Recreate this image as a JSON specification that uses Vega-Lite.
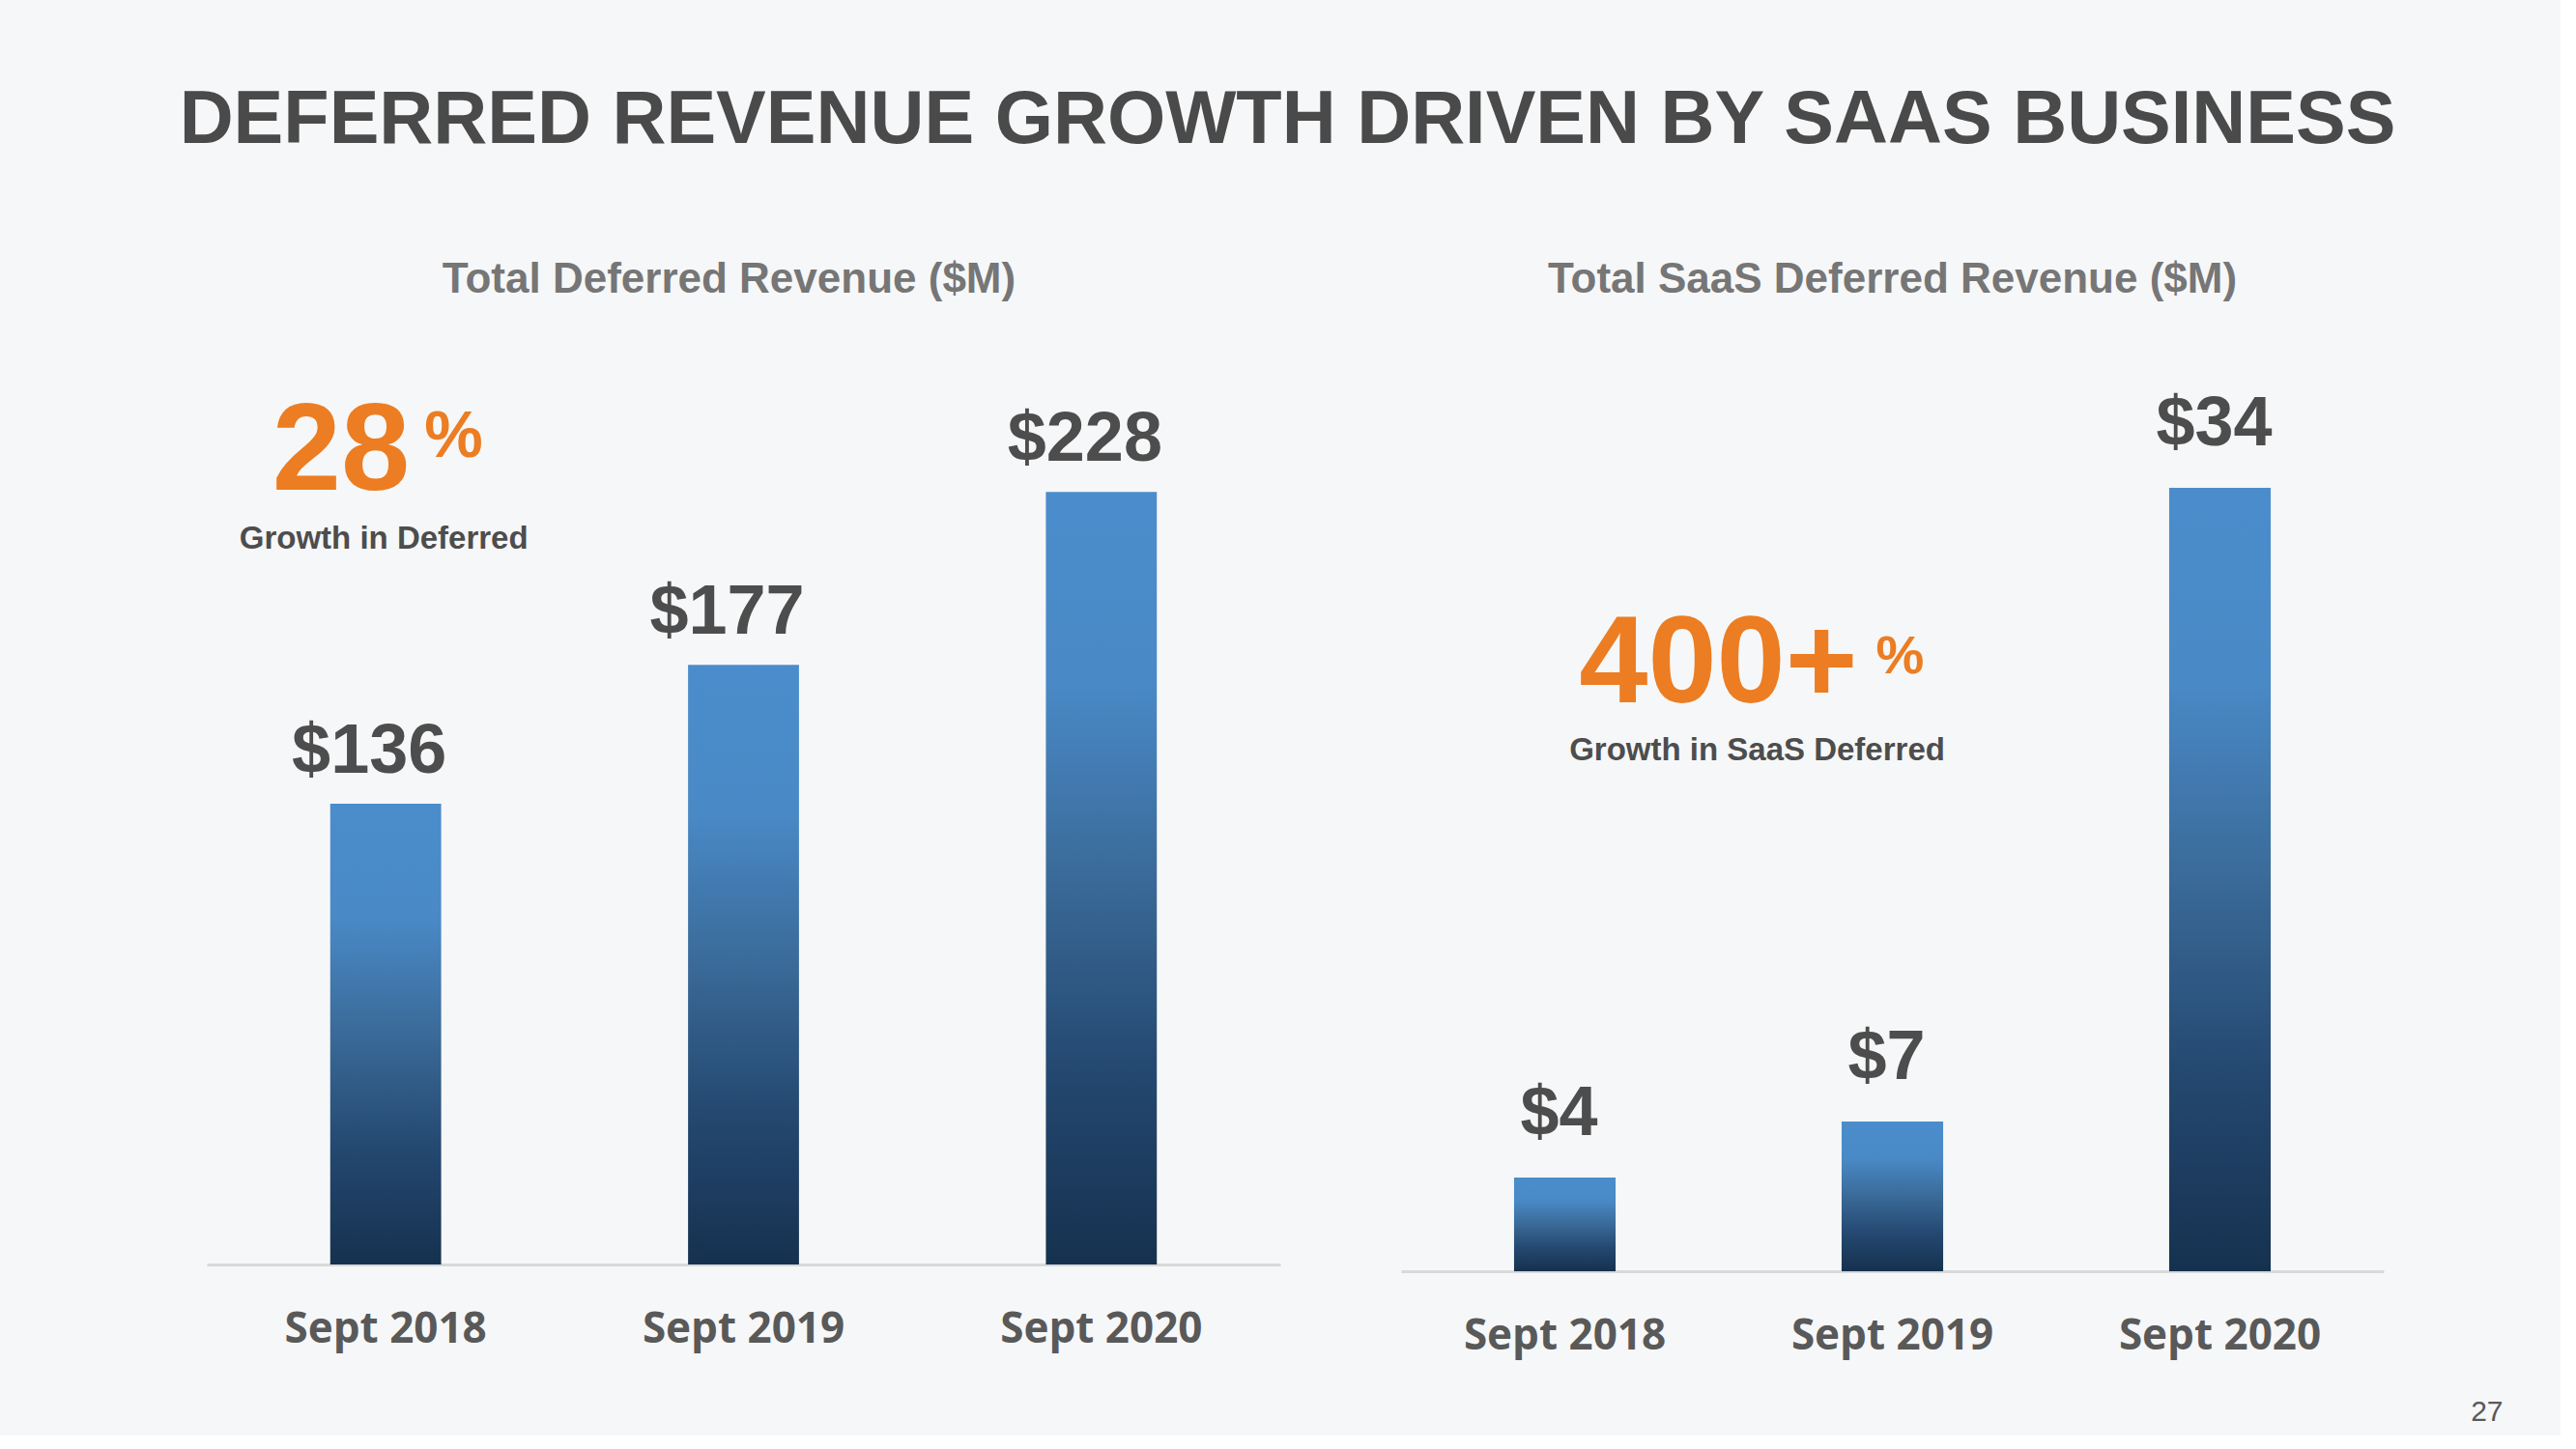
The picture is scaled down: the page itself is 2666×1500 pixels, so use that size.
{
  "$schema": "https://vega.github.io/schema/vega-lite/v6.json",
  "background": "#f6f7f8",
  "padding": {"left": 184, "top": 85, "right": 60, "bottom": 10},
  "title": {
    "text": "DEFERRED REVENUE GROWTH DRIVEN BY SAAS BUSINESS",
    "font": "Liberation Sans",
    "fontSize": 77.5,
    "fontWeight": "bold",
    "color": "#4a4a4a",
    "anchor": "middle",
    "offset": 104,
    "dx": -69.5
  },
  "config": {
    "view": {"stroke": null},
    "axisX": {
      "title": null,
      "labelAngle": 0,
      "labelFont": "Open Sans",
      "labelFontSize": 44,
      "labelFontWeight": "bold",
      "labelColor": "#595959",
      "labelPadding": 45,
      "labelLimit": 0,
      "ticks": false,
      "grid": false,
      "domainColor": "#d9d9d9",
      "domainWidth": 3
    }
  },
  "spacing": 125,
  "hconcat": [
    {
      "width": 1111,
      "height": 947,
      "title": {
        "text": "Total Deferred Revenue ($M)",
        "font": "Liberation Sans",
        "fontSize": 44,
        "fontWeight": "bold",
        "color": "#767676",
        "offset": 50,
        "dx": -15
      },
      "data": {
        "values": [
          {"period": "Sept 2018", "value": 136, "label": "$136", "note": "28", "pct": "%", "sub": "Growth in Deferred"},
          {"period": "Sept 2019", "value": 177, "label": "$177"},
          {"period": "Sept 2020", "value": 228, "label": "$228"}
        ]
      },
      "encoding": {
        "x": {"field": "period", "type": "nominal", "sort": null, "scale": {"paddingInner": 0.69, "paddingOuter": 0.345}},
        "y": {"field": "value", "type": "quantitative", "scale": {"domain": [0, 270]}, "axis": null}
      },
      "layer": [
        {
          "mark": {
            "type": "bar",
            "color": {
              "gradient": "linear", "x1": 0, "y1": 0, "x2": 0, "y2": 1,
              "stops": [
                {"offset": 0, "color": "#4b8dcc"},
                {"offset": 0.25, "color": "#4989c6"},
                {"offset": 0.5, "color": "#3a6a98"},
                {"offset": 0.75, "color": "#244870"},
                {"offset": 1, "color": "#16314f"}
              ]
            }
          }
        },
        {
          "mark": {"type": "text", "font": "Liberation Sans", "fontSize": 72, "fontWeight": "bold", "color": "#4d4d4d", "baseline": "alphabetic", "align": "center", "dx": -17, "dy": -32},
          "encoding": {"text": {"field": "label"}}
        },
        {
          "transform": [{"filter": "isValid(datum.note)"}],
          "mark": {"type": "text", "font": "Liberation Sans", "fontSize": 128, "fontWeight": "bold", "color": "#ec7d22", "baseline": "alphabetic", "align": "right", "dx": 25, "dy": -325},
          "encoding": {"text": {"field": "note"}}
        },
        {
          "transform": [{"filter": "isValid(datum.pct)"}],
          "mark": {"type": "text", "font": "Liberation Sans", "fontSize": 68, "fontWeight": "bold", "color": "#ec7d22", "baseline": "alphabetic", "align": "left", "dx": 40, "dy": -359},
          "encoding": {"text": {"field": "pct"}}
        },
        {
          "transform": [{"filter": "isValid(datum.sub)"}],
          "mark": {"type": "text", "font": "Liberation Sans", "fontSize": 33, "fontWeight": "bold", "color": "#4d4d4d", "baseline": "alphabetic", "align": "center", "dx": -2, "dy": -264},
          "encoding": {"text": {"field": "sub"}}
        }
      ]
    },
    {
      "width": 1017,
      "height": 954,
      "title": {
        "text": "Total SaaS Deferred Revenue ($M)",
        "font": "Liberation Sans",
        "fontSize": 44,
        "fontWeight": "bold",
        "color": "#767676",
        "offset": 50
      },
      "data": {
        "values": [
          {"period": "Sept 2018", "value": 4.07, "label": "$4", "note": "400+", "pct": "%", "sub": "Growth in SaaS Deferred"},
          {"period": "Sept 2019", "value": 6.5, "label": "$7"},
          {"period": "Sept 2020", "value": 34, "label": "$34"}
        ]
      },
      "encoding": {
        "x": {
          "field": "period", "type": "nominal", "sort": null,
          "scale": {"paddingInner": 0.69, "paddingOuter": 0.345},
          "axis": {
            "title": "27",
            "titleFont": "Liberation Sans",
            "titleFontSize": 30,
            "titleFontWeight": "normal",
            "titleColor": "#595959",
            "titleAlign": "right",
            "titleBaseline": "alphabetic",
            "titleX": 1140,
            "titleY": 154
          }
        },
        "y": {"field": "value", "type": "quantitative", "scale": {"domain": [0, 40]}, "axis": null}
      },
      "layer": [
        {
          "mark": {
            "type": "bar",
            "color": {
              "gradient": "linear", "x1": 0, "y1": 0, "x2": 0, "y2": 1,
              "stops": [
                {"offset": 0, "color": "#4b8dcc"},
                {"offset": 0.25, "color": "#4989c6"},
                {"offset": 0.5, "color": "#3a6a98"},
                {"offset": 0.75, "color": "#244870"},
                {"offset": 1, "color": "#16314f"}
              ]
            }
          }
        },
        {
          "mark": {"type": "text", "font": "Liberation Sans", "fontSize": 72, "fontWeight": "bold", "color": "#4d4d4d", "baseline": "alphabetic", "align": "center", "dx": -6, "dy": -44},
          "encoding": {"text": {"field": "label"}}
        },
        {
          "transform": [{"filter": "isValid(datum.note)"}],
          "mark": {"type": "text", "font": "Liberation Sans", "fontSize": 128, "fontWeight": "bold", "color": "#ec7d22", "baseline": "alphabetic", "align": "right", "dx": 303, "dy": -492},
          "encoding": {"text": {"field": "note"}}
        },
        {
          "transform": [{"filter": "isValid(datum.pct)"}],
          "mark": {"type": "text", "font": "Liberation Sans", "fontSize": 56, "fontWeight": "bold", "color": "#ec7d22", "baseline": "alphabetic", "align": "left", "dx": 322, "dy": -522},
          "encoding": {"text": {"field": "pct"}}
        },
        {
          "transform": [{"filter": "isValid(datum.sub)"}],
          "mark": {"type": "text", "font": "Liberation Sans", "fontSize": 33, "fontWeight": "bold", "color": "#4d4d4d", "baseline": "alphabetic", "align": "center", "dx": 199, "dy": -432},
          "encoding": {"text": {"field": "sub"}}
        }
      ]
    }
  ]
}
